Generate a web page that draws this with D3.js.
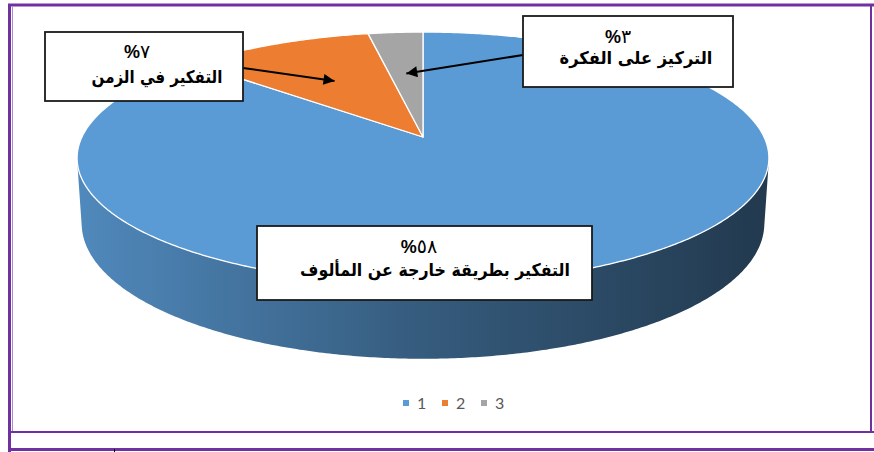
<!DOCTYPE html>
<html><head><meta charset="utf-8">
<script src="https://cdn.jsdelivr.net/npm/d3@7"></script>
<style>html,body{margin:0;padding:0;background:#fff;}svg{display:block}</style>
</head><body>
<svg id="c" width="874" height="452"></svg>
<script>
// ---------- data ----------
const categories = ["1", "2", "3"];
const values = [86.6, 10.4, 3.0];
const colors = ["#5B9BD5", "#ED7D31", "#A5A5A5"];
const percentDigits = ["٥٨", "٧", "٣"];
const textLabels = ["التفكير بطريقة خارجة عن المألوف", "التفكير في الزمن", "التركيز على الفكرة"];

// ---------- layout ----------
const W = 874, H = 452;
const cx = 423, cy = 137;          // projected pie centre
const D = 5.6, s = 0.359, c = Math.sqrt(1 - s * s), f = 1910, depth = 0.205;
const boxes = [
  {x: 257, y: 226, w: 335, h: 74, px: 419, py: 253, lx: 435, ly: 276, lw: 270, ax: null, ay: null},
  {x: 45,  y: 32,  w: 198, h: 69, px: 137, py: 58,  lx: 157, ly: 83,  lw: 131, ax: 243, ay: 68},
  {x: 523, y: 16,  w: 210, h: 71, px: 618, py: 43,  lx: 636, ly: 64,  lw: 153, ax: 523, ay: 55}
];

const svg = d3.select("#c");
const defs = svg.append("defs");

function proj(t, Y, r) {
  const X = r * Math.sin(t), Z = -r * Math.cos(t);
  const w = D - (Y * s + Z * c);
  const v = Y * c - Z * s;
  return [cx + f * X / w, cy - f * v / w];
}

const pie = d3.pie().sort(null).value(d => d)(values);

// side gradients per slice
pie.forEach((p, i) => {
  const base = d3.color(colors[i]);
  const g = defs.append("linearGradient").attr("id", "side" + i)
    .attr("gradientUnits", "userSpaceOnUse").attr("x1", 77).attr("x2", 769).attr("y1", 0).attr("y2", 0);
  g.append("stop").attr("offset", 0).attr("stop-color", base.darker(0.35));
  g.append("stop").attr("offset", 0.5).attr("stop-color", base.darker(1.5));
  g.append("stop").attr("offset", 1).attr("stop-color", base.darker(2.8));
});

defs.append("marker").attr("id", "arrow").attr("viewBox", "0 0 10 10")
  .attr("refX", 10).attr("refY", 5).attr("markerWidth", 15).attr("markerHeight", 11)
  .attr("markerUnits", "userSpaceOnUse").attr("orient", "auto")
  .append("path").attr("d", "M0,0 L10,5 L0,10 z").attr("fill", "#000");

const line = d3.line();
const step = Math.PI / 360;
const tF0 = Math.acos(-1 / (D * c)), tF1 = 2 * Math.PI - tF0;

// walls
const gWall = svg.append("g");
pie.forEach((p, i) => {
  const lo = Math.max(p.startAngle, tF0), hi = Math.min(p.endAngle, tF1);
  if (hi <= lo) return;
  const top = [], bot = [];
  const n = Math.max(2, Math.ceil((hi - lo) / step));
  for (let k = 0; k <= n; k++) {
    const t = lo + (hi - lo) * k / n;
    top.push(proj(t, 0, 1));
    bot.push(proj(t, -depth, 1));
  }
  gWall.append("path").attr("d", line(top.concat(bot.reverse())) + "Z")
    .attr("fill", "url(#side" + i + ")");
});

// top faces
const gTop = svg.append("g");
pie.forEach((p, i) => {
  const pts = [proj(0, 0, 0)];
  const n = Math.max(2, Math.ceil((p.endAngle - p.startAngle) / step));
  for (let k = 0; k <= n; k++) pts.push(proj(p.startAngle + (p.endAngle - p.startAngle) * k / n, 0, 1));
  gTop.append("path").attr("d", line(pts) + "Z")
    .attr("fill", colors[i]).attr("stroke", "#fff").attr("stroke-width", 1.3)
    .attr("stroke-linejoin", "round");
});

// annotation boxes
const gLab = svg.append("g");
pie.forEach((p, i) => {
  const b = boxes[i];
  if (b.ax !== null) {
    const mid = (p.startAngle + p.endAngle) / 2;
    const tip = proj(mid, 0, 0.57);
    gLab.append("line").attr("x1", b.ax).attr("y1", b.ay).attr("x2", tip[0]).attr("y2", tip[1])
      .attr("stroke", "#000").attr("stroke-width", 2).attr("marker-end", "url(#arrow)");
  }
  gLab.append("rect").attr("x", b.x).attr("y", b.y).attr("width", b.w).attr("height", b.h)
    .attr("fill", "#fff").attr("stroke", "#1a1a1a").attr("stroke-width", 1.8);
  const pt = gLab.append("text").attr("x", b.px).attr("y", b.py).attr("text-anchor", "middle")
    .attr("font-family", "Liberation Sans, DejaVu Sans, sans-serif")
    .attr("font-size", 18).attr("fill", "#000");
  pt.append("tspan").attr("font-weight", "bold").text("%");
  pt.append("tspan").attr("font-weight", "normal").attr("font-family", "DejaVu Sans, sans-serif").attr("font-size", 19).text(percentDigits[i]);
  const t = gLab.append("text").attr("x", 0).attr("y", 0).attr("text-anchor", "middle")
    .attr("font-family", "DejaVu Sans, sans-serif").attr("font-weight", "bold")
    .attr("font-size", 17.5).attr("fill", "#000").text(textLabels[i]);
  const w = t.node().getComputedTextLength();
  const k = w > 0 ? b.lw / w : 1;
  t.attr("transform", `translate(${b.lx},${b.ly}) scale(${k},1)`);
});

// legend
const lx = d3.scalePoint().domain(categories).range([403, 481]);
const gLeg = svg.append("g");
categories.forEach((cat, i) => {
  gLeg.append("rect").attr("x", lx(cat)).attr("y", 400).attr("width", 6).attr("height", 6).attr("fill", colors[i]);
  gLeg.append("text").attr("x", lx(cat) + 14).attr("y", 409).attr("font-family", "Lato, Open Sans, sans-serif")
    .attr("font-size", 16).attr("fill", "#595959").text(cat);
});

// frame
const gF = svg.append("g").attr("fill", "none");
gF.append("line").attr("x1", 8).attr("x2", W).attr("y1", 5).attr("y2", 5).attr("stroke", "#7030A0").attr("stroke-width", 3);
gF.append("line").attr("x1", 9.5).attr("x2", 9.5).attr("y1", 4).attr("y2", H).attr("stroke", "#7030A0").attr("stroke-width", 3);
gF.append("line").attr("x1", 12.5).attr("x2", 12.5).attr("y1", 7).attr("y2", 432).attr("stroke", "#A98BC9").attr("stroke-width", 1);
gF.append("line").attr("x1", 871).attr("x2", 871).attr("y1", 5).attr("y2", 432).attr("stroke", "#7030A0").attr("stroke-width", 2);
gF.append("line").attr("x1", 9).attr("x2", W).attr("y1", 432).attr("y2", 432).attr("stroke", "#7030A0").attr("stroke-width", 2);
gF.append("line").attr("x1", 9).attr("x2", W).attr("y1", 449.5).attr("y2", 449.5).attr("stroke", "#7030A0").attr("stroke-width", 3);
gF.append("line").attr("x1", 114.5).attr("x2", 114.5).attr("y1", 449).attr("y2", H).attr("stroke", "#000").attr("stroke-width", 1);
</script>
</body></html>
